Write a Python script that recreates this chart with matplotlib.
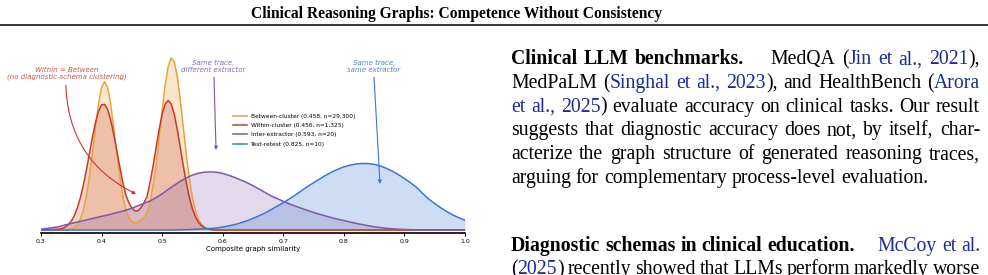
import numpy as np
import matplotlib
matplotlib.use("Agg")
import matplotlib.pyplot as plt
from matplotlib.lines import Line2D

# ---- data (density of composite graph similarity) ----
# narrow bimodal curves, grid 0.330 .. 0.590 step 0.005
between_cluster = [0, 0, 0.01, 0.02, 0.06, 0.15, 0.32, 0.64, 1.17, 2.0, 3.13, 4.52, 6.03,
                   7.39, 8.35, 8.7, 8.35, 7.39, 6.03, 4.52, 3.13, 2.0, 1.2, 0.75, 0.5, 0.42,
                   0.45, 0.58, 0.72, 1.0, 1.6, 2.6, 3.8, 5.4, 7.0, 8.5, 9.6, 10.09, 9.87, 9.0,
                   7.6, 6.0, 4.4, 3.0, 1.9, 1.15, 0.63, 0.33, 0.16, 0.07, 0.03, 0.01, 0]
within_cluster = [0.05, 0.09, 0.17, 0.31, 0.52, 0.84, 1.29, 1.89, 2.64, 3.53, 4.49, 5.45, 6.31,
                  6.97, 7.34, 7.37, 7.07, 6.46, 5.63, 4.68, 3.72, 2.81, 2.06, 1.6, 1.3, 1.12,
                  1.12, 1.3, 1.6, 1.95, 2.77, 3.75, 4.83, 5.89, 6.79, 7.39, 7.6, 7.39, 6.79,
                  5.89, 4.83, 3.74, 2.74, 1.9, 1.24, 0.77, 0.45, 0.25, 0.13, 0.06, 0.03, 0.01, 0]
# broad curves, grid 0.30 .. 1.00 step 0.01
inter_extractor = [0.05, 0.09, 0.14, 0.2, 0.3, 0.38, 0.47, 0.55, 0.63, 0.72,
                   0.8, 0.88, 0.97, 1.06, 1.16, 1.28, 1.42, 1.56, 1.70, 1.90,
                   2.12, 2.38, 2.62, 2.86, 3.06, 3.22, 3.33, 3.39, 3.41, 3.39,
                   3.32, 3.21, 3.08, 2.93, 2.78, 2.6, 2.4, 2.2, 2.0, 1.84,
                   1.68, 1.53, 1.4, 1.27, 1.15, 1.03, 0.92, 0.82, 0.72, 0.63,
                   0.55, 0.47, 0.39, 0.32, 0.25, 0.19, 0.14, 0.1, 0.07, 0.05,
                   0.03, 0.02, 0.01, 0, 0, 0, 0, 0, 0, 0, 0]
test_retest = [0] * 23 + [0.01, 0.02, 0.03, 0.05, 0.07, 0.09, 0.12, 0.17, 0.24, 0.32,
                          0.42, 0.54, 0.68, 0.83, 1.0, 1.2, 1.4, 1.6, 1.82, 2.05,
                          2.3, 2.55, 2.77, 2.99, 3.2, 3.4, 3.56, 3.7, 3.8, 3.87,
                          3.9, 3.9, 3.85, 3.76, 3.62, 3.45, 3.25, 3.02, 2.77, 2.5,
                          2.15, 1.82, 1.55, 1.3, 1.08, 0.88, 0.72, 0.57]

labels = ["Between-cluster (0.458, n=29,300)", "Within-cluster (0.456, n=1,325)",
          "Inter-extractor (0.593, n=20)", "Test-retest (0.825, n=10)"]
colors = ["#e8a33a", "#c8392c", "#7e57aa", "#3a78d0"]
fill_alpha = [0.25, 0.22, 0.22, 0.25]

x_fine = np.round(0.33 + 0.005 * np.arange(len(between_cluster)), 3)
x_fine = np.concatenate([[0.30], x_fine, [1.00]])
x_wide = np.round(0.30 + 0.01 * np.arange(len(inter_extractor)), 2)
series = [
    (x_fine, np.concatenate([[0], between_cluster, [0]])),
    (x_fine, np.concatenate([[0], within_cluster, [0]])),
    (x_wide, np.array(inter_extractor)),
    (x_wide, np.array(test_retest)),
]

W, H = 988, 275
fig = plt.figure(figsize=(W / 100, H / 100), dpi=100)


def fx(px):
    return px / W


def fy(py):
    return 1 - py / H


# ---- chart ----
ax = fig.add_axes([fx(41), fy(233), 424 / W, 193 / H])
for (xs, ys), c, a, lab in zip(series, colors, fill_alpha, labels):
    ax.fill_between(xs, ys, color=c, alpha=a, lw=0)
    ax.plot(xs, ys, color=c, lw=1.1, label=lab)

ax.set_xlim(0.3, 1.0)
ax.set_ylim(-3 / 17.05, 190 / 17.05)
ax.set_xticks(np.arange(0.3, 1.01, 0.1))
ax.set_xticklabels(["0.3", "0.4", "0.5", "0.6", "0.7", "0.8", "0.9", "1.0"])
ax.set_yticks([])
for s in ["left", "right", "top"]:
    ax.spines[s].set_visible(False)
ax.spines["bottom"].set_linewidth(1.2)
ax.tick_params(axis="x", length=2.5, width=0.7, labelsize=4.5, pad=1.5)
ax.set_xlabel("Composite graph similarity", fontsize=5, labelpad=2)
ax.patch.set_alpha(0)

ax.legend(loc="upper left", bbox_to_anchor=(fx(233), fy(114)), bbox_transform=fig.transFigure,
          frameon=False, fontsize=4.2, handlelength=2.4, handletextpad=0.6,
          labelspacing=0.7, borderpad=0, borderaxespad=0)

ann = dict(fontsize=5, style="italic", ha="center", va="center", linespacing=1.1)
ax.text(0.343, 9.18, "Within ≈ Between\n(no diagnostic-schema clustering)", color="#cf5246", **ann)
ax.annotate("", xy=(0.457, 2.11), xytext=(0.341, 8.5),
            arrowprops=dict(arrowstyle="-|>", color="#c8392c", lw=0.8, mutation_scale=5,
                            connectionstyle="arc3,rad=0.3", shrinkA=0, shrinkB=0))
ax.text(0.584, 9.59, "Same trace,\ndifferent extractor", color="#8a6cb8", **ann)
ax.annotate("", xy=(0.589, 4.69), xytext=(0.5856, 8.97),
            arrowprops=dict(arrowstyle="-|>", color="#7e57aa", lw=0.8, mutation_scale=5,
                            shrinkA=0, shrinkB=0))
ax.text(0.8498, 9.59, "Same trace,\nsame extractor", color="#4a86dc", **ann)
ax.annotate("", xy=(0.8597, 2.70), xytext=(0.8498, 8.97),
            arrowprops=dict(arrowstyle="-|>", color="#3a78d0", lw=0.8, mutation_scale=5,
                            shrinkA=0, shrinkB=0))

# ---- page header ----
fig.text(fx(456), fy(18.5), "Clinical Reasoning Graphs: Competence Without Consistency",
         family="Liberation Serif", weight="bold", fontsize=11.2, ha="center", va="baseline")
fig.add_artist(Line2D([0, 1], [fy(24.5), fy(24.5)], transform=fig.transFigure,
                      color="black", lw=1.1))

# ---- body text (justified) ----
body_size = 14.2
cite_color = "#1c2c96"
em = body_size * 100 / 72
renderer = fig.canvas.get_renderer()


def parse(line):
    words, cur, buf = [], [], ""
    bold = cite = False
    for ch in line:
        if ch in "*[] ":
            if buf:
                cur.append((buf, bold, cite))
                buf = ""
            if ch == "*":
                bold = not bold
            elif ch == "[":
                cite = True
            elif ch == "]":
                cite = False
            elif cur:
                words.append(cur)
                cur = []
        else:
            buf += ch
    if buf:
        cur.append((buf, bold, cite))
    if cur:
        words.append(cur)
    return words


def piece_width(txt, bold):
    t = fig.text(0, 0, txt, family="Liberation Serif", fontsize=body_size,
                 weight="bold" if bold else "normal")
    w = t.get_window_extent(renderer=renderer).width
    t.remove()
    return w


def draw_line(line, py, left=511, right=980, justify=True):
    words = parse(line)
    widths = []
    for wd in words:
        if wd[0][0] == "|":
            widths.append(0.7 * em)
        else:
            widths.append(sum(piece_width(p, b) for p, b, c in wd))
    gap = 0.25 * em
    if justify and len(words) > 1:
        gap = (right - left - sum(widths)) / (len(words) - 1)
    x = left
    for wd, w in zip(words, widths):
        if wd[0][0] != "|":
            xp = x
            for p, b, c in wd:
                fig.text(fx(xp), fy(py), p, family="Liberation Serif", fontsize=body_size,
                         weight="bold" if b else "normal",
                         color=cite_color if c else "black", va="baseline")
                xp += piece_width(p, b)
        x += w + gap


para1 = [
    "*Clinical LLM benchmarks.* | MedQA ([Jin et al., 2021]),",
    "MedPaLM ([Singhal et al., 2023]), and HealthBench ([Arora]",
    "[et al., 2025]) evaluate accuracy on clinical tasks. Our result",
    "suggests that diagnostic accuracy does not, by itself, char-",
    "acterize the graph structure of generated reasoning traces,",
    "arguing for complementary process-level evaluation.",
]
for i, ln in enumerate(para1):
    draw_line(ln, 64.3 + 23.7 * i, justify=(i < len(para1) - 1))

para2 = [
    "*Diagnostic schemas in clinical education.* | [McCoy et al.]",
    "([2025]) recently showed that LLMs perform markedly worse",
]
for i, ln in enumerate(para2):
    draw_line(ln, 250.7 + 23.7 * i)

fig.savefig("out.png", dpi=100)
